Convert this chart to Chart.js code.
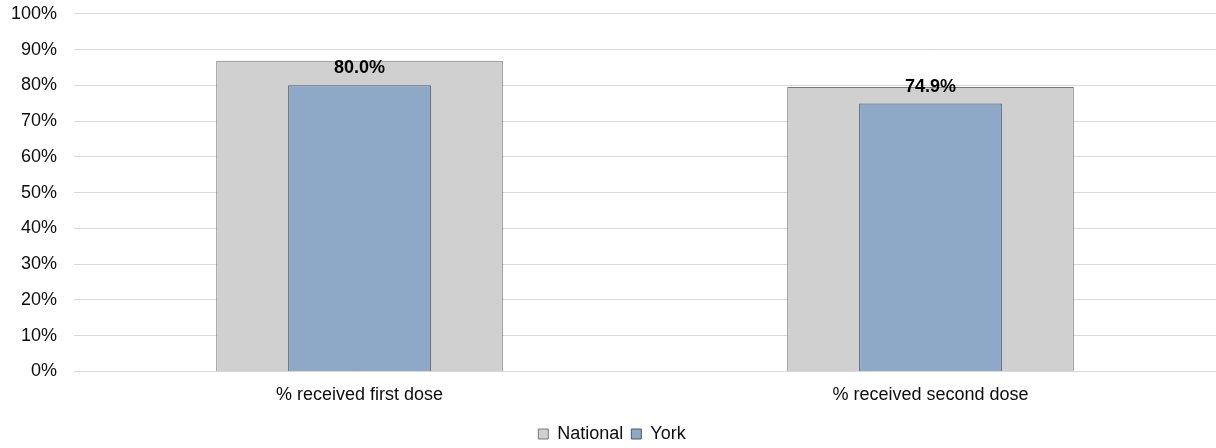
<!DOCTYPE html>
<html>
<head>
<meta charset="utf-8">
<script src="https://cdn.jsdelivr.net/npm/chart.js@4"></script>
<style>
  html, body { margin: 0; padding: 0; background: #fff; }
  #wrap { width: 1216px; height: 448px; }
</style>
</head>
<body>
<div id="wrap"><canvas id="chart"></canvas></div>
<script>
const categories = ['% received first dose', '% received second dose'];
const nationalValues = [86.9, 79.5];
const yorkValues = [80.0, 74.9];
const yTicks = [0, 10, 20, 30, 40, 50, 60, 70, 80, 90, 100];

// labels above the York bars
const yorkLabels = {
    id: 'yorkLabels',
    afterDatasetsDraw(chart) {
        const ctx = chart.ctx;
        const meta = chart.getDatasetMeta(1);
        ctx.save();
        ctx.font = 'bold 18px "Liberation Sans", Arial, sans-serif';
        ctx.fillStyle = '#000';
        ctx.textAlign = 'center';
        ctx.textBaseline = 'alphabetic';
        meta.data.forEach(function(bar, i) {
            ctx.fillText(yorkValues[i].toFixed(1) + '%', bar.x, bar.y - 12);
        });
        ctx.restore();
    }
};

Chart.defaults.font.family = '"Liberation Sans", Arial, sans-serif';
Chart.defaults.font.size = 18;
Chart.defaults.color = '#0d0d0d';

new Chart(document.getElementById('chart'), {
    type: 'bar',
    data: {
        labels: categories,
        datasets: [{
            label: 'National',
            data: nationalValues,
            backgroundColor: '#d0d0d0',
            borderColor: '#7a7a7a',
            borderWidth: 1,
            barPercentage: 0.502,
            categoryPercentage: 1,
            grouped: false,
            order: 1
        }, {
            label: 'York',
            data: yorkValues,
            backgroundColor: '#8ea9c8',
            borderColor: '#4d5a6b',
            borderWidth: 1,
            barPercentage: 0.25,
            categoryPercentage: 1,
            grouped: false,
            order: 0
        }]
    },
    options: {
        responsive: true,
        maintainAspectRatio: false,
        animation: false,
        layout: { padding: { top: 0, right: 0, left: 8, bottom: -5 } },
        plugins: {
            legend: {
                position: 'bottom',
                reverse: true,
                labels: {
                    boxWidth: 10,
                    boxHeight: 10,
                    padding: 8,
                    color: '#0d0d0d',
                    font: { size: 18 }
                }
            },
            tooltip: { enabled: false }
        },
        scales: {
            x: {
                grid: { display: false },
                border: { display: false },
                ticks: { padding: 5 },
                afterFit: function(axis) { axis.height += 6; }
            },
            y: {
                min: 0,
                max: 100,
                afterBuildTicks: function(axis) {
                    axis.ticks = yTicks.map(v => ({ value: v }));
                },
                grid: { color: '#d9d9d9', drawTicks: true, tickLength: 14, tickColor: 'rgba(0,0,0,0)' },
                border: { display: false },
                ticks: {
                    padding: 3,
                    callback: function(value) { return value + '%'; }
                }
            }
        }
    },
    plugins: [yorkLabels]
});
</script>
</body>
</html>
